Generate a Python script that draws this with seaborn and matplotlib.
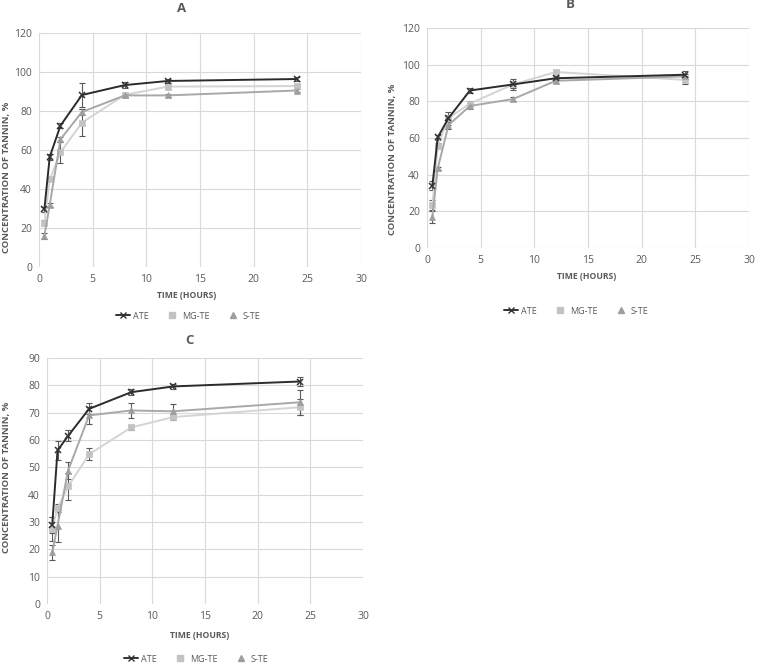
import matplotlib
matplotlib.use("Agg")
import matplotlib.pyplot as plt
from matplotlib.lines import Line2D
import pandas as pd
import seaborn as sns

TIME_H = [0.5, 1, 2, 4, 8, 12, 24]
SERIES = ["ATE", "MG-TE", "S-TE"]

A_ATE = [29.5, 56.5, 72.5, 88.2, 93.3, 95.4, 96.4]
A_ATE_ERR = [1.2, 1.5, 1.2, 6.0, 1.5, 1.2, 1.0]
A_MG = [22.8, 44.9, 58.8, 74.0, 88.3, 92.5, 92.8]
A_MG_ERR = [1.2, 1.0, 5.5, 6.8, 1.0, 1.0, 1.0]
A_S = [16.0, 31.9, 65.5, 79.5, 88.0, 88.0, 90.5]
A_S_ERR = [1.5, 1.0, 1.2, 1.5, 1.0, 0.8, 0.8]

B_ATE = [33.9, 60.4, 70.8, 85.9, 89.2, 92.6, 94.5]
B_ATE_ERR = [2.5, 1.5, 3.6, 1.2, 3.0, 1.2, 2.2]
B_MG = [23.3, 55.8, 70.8, 78.8, 89.2, 96.0, 91.7]
B_MG_ERR = [3.0, 1.5, 2.0, 1.5, 2.0, 1.0, 2.0]
B_S = [17.0, 43.4, 67.0, 77.5, 81.2, 91.2, 93.6]
B_S_ERR = [3.5, 1.0, 2.0, 1.5, 1.2, 1.0, 1.2]

C_ATE = [29.0, 56.2, 61.5, 71.4, 77.5, 79.6, 81.4]
C_ATE_ERR = [3.0, 3.5, 2.0, 2.0, 1.0, 0.8, 1.8]
C_MG = [27.5, 35.0, 43.0, 54.8, 64.6, 68.4, 72.0]
C_MG_ERR = [4.5, 1.5, 4.8, 2.2, 0.8, 1.0, 3.0]
C_S = [18.9, 28.7, 48.8, 69.0, 70.8, 70.5, 73.8]
C_S_ERR = [2.7, 6.0, 3.0, 3.0, 2.8, 2.6, 4.5]

COLORS = {"ATE": "#333333", "MG-TE": "#c3c3c3", "S-TE": "#9e9e9e"}
LINE_COLORS = {"ATE": "#2b2b2b", "MG-TE": "#d4d4d4", "S-TE": "#a8a8a8"}
MARKERS = {"ATE": "x", "MG-TE": "s", "S-TE": "^"}
TEXT_GRAY = "#595959"

PANELS = [
    # name, axes box (px), ymax, ystep, data, title xy, xlabel xy, ylabel xy, legend xy
    ("A", [39, 33, 361, 267], 120, 20, (A_ATE, A_ATE_ERR, A_MG, A_MG_ERR, A_S, A_S_ERR),
     (182, 8), (187, 296), (7, 177), (188, 316)),
    ("B", [427, 28, 749, 248], 120, 20, (B_ATE, B_ATE_ERR, B_MG, B_MG_ERR, B_S, B_S_ERR),
     (570, 5), (587, 277), (392, 159), (576, 311)),
    ("C", [47, 358, 363, 604], 90, 10, (C_ATE, C_ATE_ERR, C_MG, C_MG_ERR, C_S, C_S_ERR),
     (190, 340), (200, 635), (7, 477), (196, 659)),
]

W, H = 757, 671


def long_frame(values):
    ate, ate_err, mg, mg_err, s, s_err = values
    rows = []
    for name, ys, errs in [("ATE", ate, ate_err), ("MG-TE", mg, mg_err), ("S-TE", s, s_err)]:
        for t, y, e in zip(TIME_H, ys, errs):
            rows.append({"time": t, "conc": y, "err": e, "series": name})
    return pd.DataFrame(rows)


sns.set_theme(style="whitegrid")
plt.rcParams["font.family"] = ["Open Sans", "DejaVu Sans"]

fig = plt.figure(figsize=(W / 100, H / 100), dpi=100)

for name, (x0, y0, x1, y1), ymax, ystep, values, tpos, xlpos, ylpos, lgpos in PANELS:
    ax = fig.add_axes([x0 / W, 1 - y1 / H, (x1 - x0) / W, (y1 - y0) / H])
    df = long_frame(values)
    for s in ["MG-TE", "S-TE", "ATE"]:
        sub = df[df["series"] == s]
        ax.errorbar(sub["time"], sub["conc"], yerr=sub["err"], fmt="none",
                    ecolor=TEXT_GRAY, elinewidth=0.8, capsize=2, capthick=0.8, zorder=2)
    for s in ["MG-TE", "S-TE", "ATE"]:
        sub = df[df["series"] == s]
        sns.lineplot(data=sub, x="time", y="conc", color=LINE_COLORS[s],
                     marker=MARKERS[s], markersize=5,
                     markerfacecolor=COLORS[s], markeredgecolor=COLORS[s],
                     markeredgewidth=1.1 if s == "ATE" else 0.5,
                     linewidth=1.4, ax=ax, zorder=3)
    ax.set_xlim(0, 30)
    ax.set_ylim(0, ymax)
    ax.set_xticks(range(0, 31, 5))
    ax.set_yticks(range(0, ymax + 1, ystep))
    ax.grid(True, color="#d9d9d9", linewidth=0.8)
    for sp in ax.spines.values():
        sp.set_visible(False)
    ax.tick_params(axis="both", length=0, labelsize=7.5, colors=TEXT_GRAY, pad=5)
    ax.set_xlabel("")
    ax.set_ylabel("")

    fig.text(tpos[0] / W, 1 - tpos[1] / H, name, ha="center", va="center",
             fontsize=9.5, fontweight="bold", color=TEXT_GRAY)
    fig.text(xlpos[0] / W, 1 - xlpos[1] / H, "TIME (HOURS)", ha="center", va="center",
             fontsize=6.2, fontweight="bold", color=TEXT_GRAY)
    fig.text(ylpos[0] / W, 1 - ylpos[1] / H, "CONCENTRATION OF TANNIN, %", ha="center",
             va="center", rotation=90, fontsize=6.8, fontweight="bold", color=TEXT_GRAY)

    handles = [
        Line2D([], [], color=COLORS["ATE"], marker="x", markersize=4, linewidth=1.4,
               markeredgewidth=1.0),
        Line2D([], [], color=COLORS["MG-TE"], marker="s", markersize=4, linestyle="none"),
        Line2D([], [], color=COLORS["S-TE"], marker="^", markersize=4, linestyle="none"),
    ]
    fig.legend(handles, SERIES, loc="center", bbox_to_anchor=(lgpos[0] / W, 1 - lgpos[1] / H),
               ncol=3, frameon=False, fontsize=6.5, labelcolor=TEXT_GRAY,
               handlelength=1.6, handletextpad=0.3, columnspacing=1.8)

fig.savefig("out.png", dpi=100)
